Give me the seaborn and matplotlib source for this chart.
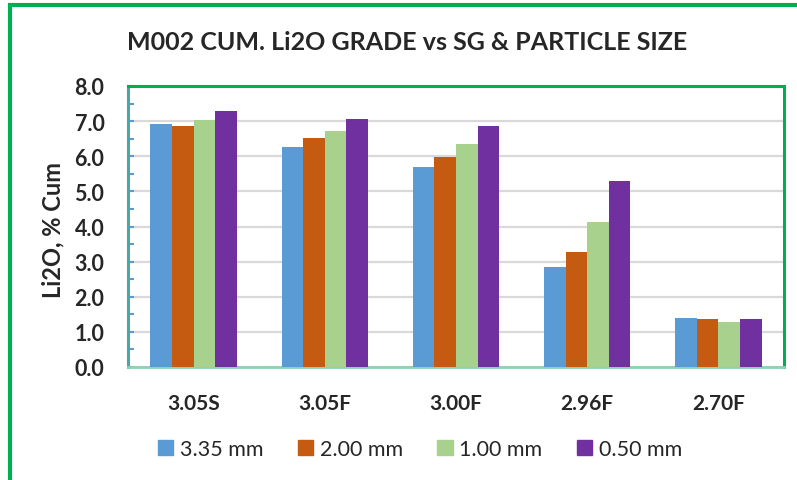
import matplotlib
matplotlib.use("Agg")
import matplotlib.pyplot as plt
import matplotlib.patches as mpatches
from matplotlib.ticker import MultipleLocator
import seaborn as sns
import pandas as pd

categories = ["3.05S", "3.05F", "3.00F", "2.96F", "2.70F"]
sizes = ["3.35 mm", "2.00 mm", "1.00 mm", "0.50 mm"]
vals_335 = [6.93, 6.25, 5.68, 2.85, 1.39]
vals_200 = [6.87, 6.52, 5.98, 3.28, 1.36]
vals_100 = [7.03, 6.71, 6.34, 4.12, 1.28]
vals_050 = [7.28, 7.07, 6.87, 5.30, 1.36]
colors = ["#5B9BD5", "#C55A11", "#A9D18E", "#7030A0"]

rows = []
for s, vals in zip(sizes, [vals_335, vals_200, vals_100, vals_050]):
    for c, v in zip(categories, vals):
        rows.append({"cat": c, "size": s, "val": v})
df = pd.DataFrame(rows)

sns.set_theme(style="white")
plt.rcParams["font.family"] = ["Lato", "DejaVu Sans"]

fig = plt.figure(figsize=(7.97, 4.81), dpi=100)
ax = fig.add_axes([128/797, 1-368/481, (784-128)/797, (368-87)/481])

sns.barplot(data=df, x="cat", y="val", hue="size", order=categories,
            hue_order=sizes, palette=colors, width=0.66, saturation=1,
            ax=ax, zorder=3, linewidth=0)

ax.set_ylim(0, 8)
ax.set_xlim(-0.5, 4.5)
ax.yaxis.set_major_locator(MultipleLocator(1.0))
ax.yaxis.set_minor_locator(MultipleLocator(0.5))
ax.set_yticks(ax.get_yticks())
ax.set_yticklabels([f"{t:.1f}" for t in ax.get_yticks()], fontsize=15.5, fontweight="bold")
ax.set_ylim(0, 8)
ax.grid(axis="y", color="#D9D9D9", linewidth=1.6, zorder=0)
ax.set_axisbelow(True)
ax.tick_params(axis="y", which="both", direction="in", length=4, width=1.5,
               color="#5B9BD5", pad=17, left=True)
ax.tick_params(axis="x", length=0, pad=19)
for lab in ax.get_xticklabels():
    lab.set_fontsize(15)
    lab.set_fontweight("bold")
ax.set_xlabel("")
ax.set_ylabel("Li2O, % Cum", fontsize=17, fontweight="bold", va="center")
ax.yaxis.set_label_coords((53-128)/656, (368-229.5)/281)

ax.spines["top"].set_color("#00B050")
ax.spines["top"].set_linewidth(2.2)
ax.spines["right"].set_color("#00B050")
ax.spines["right"].set_linewidth(2.2)
ax.spines["left"].set_color("#4AA6A8")
ax.spines["left"].set_linewidth(2.2)
ax.spines["bottom"].set_color("#8ED2B4")
ax.spines["bottom"].set_linewidth(2.0)

leg = ax.get_legend()
if leg is not None:
    leg.remove()
handles = [mpatches.Patch(color=c, label=s) for c, s in zip(colors, sizes)]
fig.legend(handles=handles, loc="center", bbox_to_anchor=(420/797, 1-450/481),
           ncol=4, frameon=False, fontsize=15.5, handlelength=0.72, handleheight=0.72,
           handletextpad=0.3, columnspacing=1.6)

fig.text(407/797, 1-42/481, "M002 CUM. Li2O GRADE vs SG & PARTICLE SIZE",
         ha="center", va="center", fontsize=18, fontweight="bold")

# outer green border (extends beyond right/bottom edges)
border = mpatches.Rectangle((10/797, -0.05), 1.2, 1 - 6/481 + 0.05,
                            transform=fig.transFigure, fill=False,
                            edgecolor="#00B050", linewidth=3, zorder=10)
fig.patches.append(border)

fig.savefig("out.png", dpi=100)
